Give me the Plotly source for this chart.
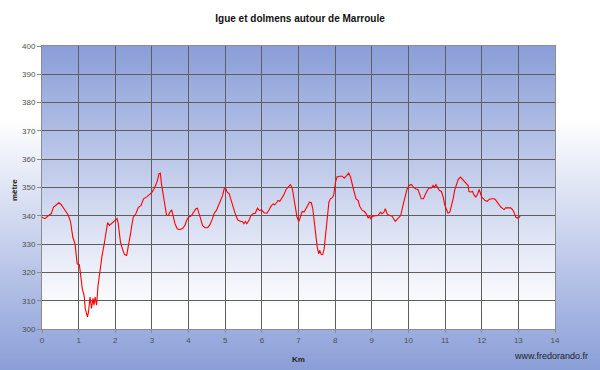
import plotly.graph_objects as go

# ---------------- data ----------------
km_a = [0, 0.08, 0.17, 0.25, 0.31, 0.4, 0.46, 0.52, 0.61, 0.72,
        0.78, 0.84, 0.9, 0.93, 0.96, 1.02, 1.06, 1.1, 1.15, 1.18,
        1.24, 1.27, 1.31, 1.35, 1.39, 1.42, 1.45, 1.49, 1.53, 1.59,
        1.64, 1.7, 1.74, 1.79, 1.84, 1.92, 1.97, 2.05, 2.08, 2.14,
        2.19, 2.25, 2.31, 2.35, 2.41, 2.45, 2.49, 2.56, 2.63, 2.7,
        2.77, 2.85, 2.9, 2.95, 3.0, 3.08, 3.15, 3.19, 3.23]
elev_a = [339.5, 339, 340, 340.7, 343, 344, 344.6, 344, 342.3, 340.2,
          337.8, 332.5, 330.2, 327.2, 323, 322.7, 318.3, 314.2, 311.8, 307.3,
          304.3, 306, 311.3, 307.3, 310.8, 308.4, 311.3, 308.4, 315.4, 322.5,
          326, 330.2, 334.3, 337.6, 336.6, 337.6, 338.2, 339, 337.3, 330.8,
          328.5, 326.3, 326, 328.5, 333.2, 336.6, 339.5, 340.7, 343, 343.6,
          346, 346.6, 347.1, 347.7, 348.3, 350.1, 352.4, 354.8, 355.1]

km_b = [3.26, 3.31, 3.35, 3.4, 3.45, 3.49, 3.54, 3.58, 3.63, 3.69,
        3.76, 3.84, 3.9, 3.95, 4.0, 4.08, 4.13, 4.2, 4.24, 4.28,
        4.33, 4.38, 4.45, 4.52, 4.58, 4.65, 4.7, 4.76, 4.83, 4.88,
        4.93, 4.97, 5.01, 5.05, 5.11, 5.15, 5.2, 5.26, 5.31, 5.35,
        5.43, 5.47, 5.51, 5.55, 5.59, 5.65, 5.7, 5.76, 5.82, 5.88,
        5.93, 5.99, 6.06, 6.14, 6.2, 6.26, 6.31, 6.35, 6.4, 6.44,
        6.49, 6.54]
elev_b = [351.3, 347.2, 343.6, 340.1, 340.1, 341.3, 342.1, 340.1, 337.2, 335.4,
          335.1, 335.6, 336.6, 338.4, 339.5, 340.1, 341.3, 342.5, 342.7, 341.3,
          338.9, 336.6, 335.8, 335.8, 336.8, 338.9, 340.9, 341.9, 344.2, 346,
          347.2, 349.5, 349.8, 348.4, 347.8, 346, 343.4, 341.3, 339.5, 338.4,
          338, 338, 337.2, 338, 337.2, 338.4, 340.1, 340.7, 340.9, 342.7,
          341.9, 342.1, 341.1, 340.9, 342.2, 343.6, 344.2, 343.9, 344.6, 345.4,
          345.1, 346.2]

km_c = [6.6, 6.66, 6.74, 6.78, 6.83, 6.87, 6.92, 6.96, 7.01, 7.05,
        7.1, 7.15, 7.19, 7.24, 7.3, 7.35, 7.39, 7.43, 7.46, 7.51,
        7.55, 7.58, 7.62, 7.66, 7.7, 7.74, 7.78, 7.83, 7.87, 7.92,
        7.96, 8.01, 8.05, 8.12, 8.19, 8.25, 8.3, 8.37, 8.42, 8.46,
        8.52, 8.57, 8.63, 8.67, 8.74, 8.8, 8.85, 8.9, 8.94, 8.97,
        9.03, 9.1, 9.17, 9.24, 9.28, 9.33, 9.37, 9.42, 9.48, 9.55,
        9.6, 9.64, 9.69, 9.75]
elev_c = [347.4, 349.3, 350.7, 351, 349.8, 346.6, 342.5, 339.5, 338, 339.5,
          341.5, 341.3, 342.5, 343.4, 344.8, 344.6, 342.5, 337.8, 333.1, 329,
          326.6, 327.8, 326.3, 326.3, 328.3, 333.6, 340.1, 344.8, 346, 346.4,
          347.2, 351.9, 353.7, 354, 354, 353.3, 354, 355.1, 353.7, 351.3,
          348.4, 346, 345.4, 343.4, 341.9, 341.5, 340.7, 339.2, 339.9, 339,
          339.9, 340, 340.1, 341.3, 340.7, 341.3, 342.5, 340.7, 340.1, 339.9,
          338.7, 338, 338.7, 339.5]

km_d = [9.79, 9.85, 9.91, 9.96, 10.02, 10.08, 10.14, 10.2, 10.26, 10.31,
        10.35, 10.41, 10.45, 10.5, 10.56, 10.63, 10.67, 10.71, 10.75, 10.79,
        10.84, 10.9, 10.95, 10.99, 11.04, 11.08, 11.13, 11.17, 11.22, 11.26,
        11.31, 11.36, 11.42, 11.47, 11.53, 11.58, 11.63, 11.65, 11.7, 11.75,
        11.79, 11.84, 11.88, 11.93, 11.96, 12.0, 12.05, 12.09, 12.15, 12.2,
        12.26, 12.34, 12.38, 12.43, 12.47, 12.52, 12.56, 12.61, 12.65, 12.73,
        12.79, 12.84, 12.88, 12.93, 12.97, 13.02, 13.05]
elev_d = [340.1, 343.6, 346.6, 349.3, 350.7, 351.1, 350.1, 349.5, 349.3, 347.2,
          346, 346, 347.2, 348.6, 349.8, 349.8, 350.7, 350.1, 351, 349.9,
          349, 348.6, 346.6, 343.9, 341.9, 340.9, 341.3, 343.1, 346, 349,
          351.4, 352.9, 353.7, 352.9, 352.2, 351.1, 350.7, 348.6, 348.4, 348.6,
          347.4, 346.6, 347.4, 349.3, 348.2, 346.6, 346, 345.4, 345.1, 345.8,
          346, 346, 345.6, 344.6, 343.9, 343.1, 342.7, 342.2, 342.8, 342.8,
          342.8, 342.2, 341.3, 339.5, 339.2, 339.5, 339.9]

x_ticks = list(range(0, 15))
y_ticks = list(range(300, 401, 10))

title_text = "Igue et dolmens autour de Marroule"
x_title = "Km"
y_title = "mètre"
credit = "www.fredorando.fr"

km = km_a + km_b + km_c + km_d
elev = elev_a + elev_b + elev_c + elev_d

# ---------------- layout geometry ----------------
W, H = 600, 370
L, R, T, B = 42, 45, 46, 41
PW = W - L - R
PH = H - T - B


def pxr(xpix):
    return (xpix - L) / PW


def pyr(ypix):
    return (H - B - ypix) / PH


BLUE = (138, 158, 216)
WHITE = (255, 255, 255)


def mix(f):
    f = max(0.0, min(1.0, f))
    c = [round(WHITE[i] * (1 - f) + BLUE[i] * f) for i in range(3)]
    return "rgb(%d,%d,%d)" % tuple(c)


shapes = []
# figure background gradient: white at top -> blue at bottom
for y in range(0, H):
    f = (y - 120) / 250.0
    shapes.append(dict(type="rect", xref="paper", yref="paper", layer="below",
                       x0=pxr(0), x1=pxr(W), y0=pyr(y + 1.5), y1=pyr(y),
                       fillcolor=mix(f), line=dict(width=0)))
# plot area gradient: blue at top -> white at bottom
for y in range(T, H - B):
    f = (310 - y) / (310.0 - T)
    shapes.append(dict(type="rect", xref="paper", yref="paper", layer="below",
                       x0=0, x1=1, y0=pyr(min(y + 1.5, H - B)), y1=pyr(y),
                       fillcolor=mix(f), line=dict(width=0)))

fig = go.Figure()
fig.add_trace(go.Scatter(x=km, y=elev, mode="lines",
                         line=dict(color="#ff0000", width=1.1),
                         hoverinfo="skip", showlegend=False))

tick_font = dict(family="Liberation Sans, Arial, sans-serif", size=8, color="#505050")

fig.update_layout(
    width=W, height=H,
    margin=dict(l=L, r=R, t=T, b=B, pad=0),
    paper_bgcolor="white",
    plot_bgcolor="rgba(0,0,0,0)",
    shapes=shapes,
    showlegend=False,
    title=dict(text="<b>%s</b>" % title_text, x=0.5, xref="container", xanchor="center",
               y=1 - 18 / H, yref="container", yanchor="middle",
               font=dict(family="Liberation Sans, Arial, sans-serif", size=10, color="#111111")),
    xaxis=dict(range=[0, 14], tickmode="array", tickvals=x_ticks,
               ticktext=[str(v) for v in x_ticks],
               showgrid=True, gridcolor="#5f5f5f", gridwidth=1,
               showline=True, linecolor="#8c8c8c", linewidth=1, mirror=True,
               ticks="outside", ticklen=3, tickcolor="#8c8c8c",
               tickfont=tick_font, zeroline=False, fixedrange=True),
    yaxis=dict(range=[300, 400], tickmode="array", tickvals=y_ticks,
               ticktext=[str(v) for v in y_ticks],
               showgrid=True, gridcolor="#5f5f5f", gridwidth=1,
               showline=True, linecolor="#8c8c8c", linewidth=1, mirror=True,
               ticks="outside", ticklen=4, tickcolor="#8c8c8c",
               tickfont=tick_font, zeroline=False, fixedrange=True),
    annotations=[
        dict(text="<b>%s</b>" % y_title, xref="paper", yref="paper",
             x=pxr(14), y=pyr(190), textangle=-90, showarrow=False,
             xanchor="center", yanchor="middle",
             font=dict(family="Liberation Sans, Arial, sans-serif", size=8, color="#222222")),
        dict(text="<b>%s</b>" % x_title, xref="paper", yref="paper",
             x=pxr(298), y=pyr(360), showarrow=False,
             xanchor="center", yanchor="middle",
             font=dict(family="Liberation Sans, Arial, sans-serif", size=8, color="#222222")),
        dict(text=credit, xref="paper", yref="paper",
             x=pxr(590), y=pyr(356), showarrow=False,
             xanchor="right", yanchor="middle",
             font=dict(family="Liberation Sans, Arial, sans-serif", size=9, color="#222222")),
    ],
)

fig.write_html("out.html",
               config={"displayModeBar": False},
               post_script="document.body.style.margin='0';document.body.style.overflow='hidden';")
